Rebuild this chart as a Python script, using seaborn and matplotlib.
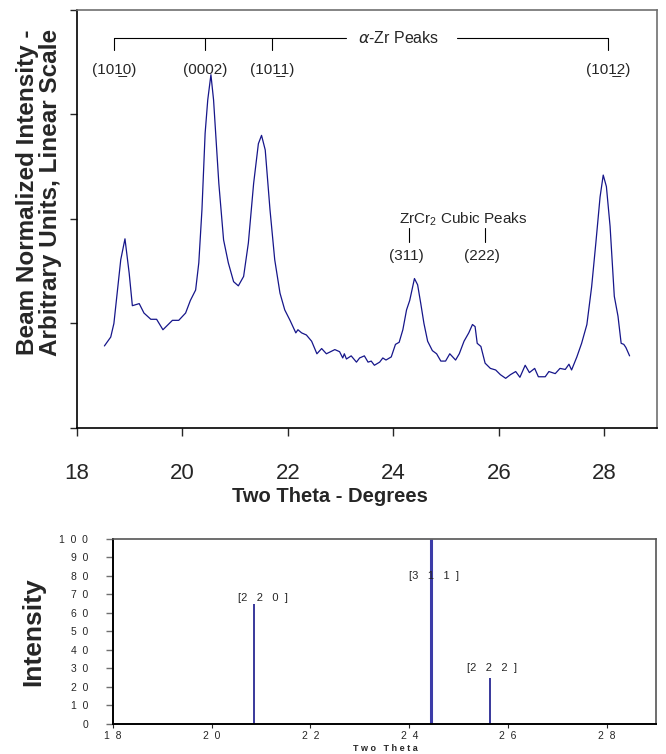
import matplotlib
matplotlib.use("Agg")
import matplotlib.pyplot as plt
import pandas as pd
import seaborn as sns

# digitized diffraction scan (two theta in degrees, arbitrary intensity)
two_theta = [18.52, 18.64, 18.70, 18.83, 18.91, 18.99, 19.05, 19.18, 19.27, 19.40,
             19.51, 19.63, 19.74, 19.81, 19.93, 20.06, 20.15, 20.25, 20.31, 20.37,
             20.43, 20.48, 20.54, 20.59, 20.69, 20.78, 20.87, 20.97, 21.06, 21.16,
             21.25, 21.35, 21.44, 21.50, 21.57, 21.66, 21.75, 21.85, 21.94, 22.04,
             22.15, 22.19, 22.26, 22.35, 22.45, 22.55, 22.64, 22.73, 22.89, 22.98,
             23.04, 23.07, 23.11, 23.20, 23.30, 23.36, 23.45, 23.52, 23.58, 23.64,
             23.74, 23.80, 23.86, 23.96, 24.04, 24.11, 24.18, 24.25, 24.31, 24.40,
             24.46, 24.52, 24.58, 24.65, 24.74, 24.82, 24.90, 24.99, 25.07, 25.18,
             25.25, 25.34, 25.43, 25.50, 25.55, 25.59, 25.66, 25.74, 25.84, 25.94,
             26.03, 26.13, 26.22, 26.32, 26.40, 26.50, 26.58, 26.68, 26.75, 26.88,
             26.95, 27.07, 27.16, 27.26, 27.33, 27.38, 27.48, 27.57, 27.67, 27.76,
             27.84, 27.92, 27.98, 28.04, 28.11, 28.19, 28.26, 28.32, 28.37, 28.41,
             28.48]
intensity = [0.785, 0.87, 1.00, 1.61, 1.81, 1.48, 1.17, 1.19, 1.10, 1.04,
             1.04, 0.94, 0.995, 1.03, 1.03, 1.10, 1.22, 1.32, 1.58, 2.09,
             2.82, 3.14, 3.38, 3.14, 2.34, 1.80, 1.58, 1.40, 1.36, 1.45,
             1.77, 2.34, 2.72, 2.80, 2.66, 2.09, 1.61, 1.29, 1.13, 1.03,
             0.91, 0.94, 0.91, 0.89, 0.83, 0.71, 0.76, 0.71, 0.75, 0.73,
             0.67, 0.71, 0.66, 0.69, 0.63, 0.67, 0.69, 0.63, 0.64, 0.60,
             0.63, 0.67, 0.65, 0.68, 0.80, 0.82, 0.94, 1.13, 1.22, 1.43,
             1.37, 1.19, 1.00, 0.83, 0.74, 0.71, 0.64, 0.64, 0.71, 0.65,
             0.71, 0.83, 0.91, 0.99, 0.97, 0.81, 0.78, 0.62, 0.57, 0.555,
             0.51, 0.475, 0.51, 0.54, 0.485, 0.60, 0.53, 0.57, 0.49, 0.49,
             0.54, 0.52, 0.57, 0.56, 0.61, 0.555, 0.68, 0.81, 0.99, 1.35,
             1.77, 2.21, 2.42, 2.31, 1.93, 1.26, 1.07, 0.81, 0.80, 0.77,
             0.69]

# alpha-Zr reflections marked on the bracket
zr_pos = [18.70, 20.43, 21.70, 28.07]
zr_labels = ["(101\u03320)", "(0002)", "(101\u03321)", "(101\u03322)"]

# ZrCr2 cubic reflections marked in the scan
cubic_pos = [24.25, 25.68]
cubic_labels = ["(311)", "(222)"]

# reference stick pattern for ZrCr2
stick_pos = [20.85, 24.44, 25.64]
stick_int = [65, 100, 25]
stick_hkl = ["[2   2   0  ]", "[3   1   1  ]", "[2   2   2  ]"]

x_ticks = [18, 20, 22, 24, 26, 28]
bottom_xlabels = ["1  8", "2  0", "2  2", "2  4", "2  6", "2  8"]
bottom_yticks = [0, 10, 20, 30, 40, 50, 60, 70, 80, 90, 100]
bottom_ylabels = ["0", "1  0", "2  0", "3  0", "4  0", "5  0", "6  0", "7  0",
                  "8  0", "9  0", "1  0  0"]

sns.set_style("ticks")
plt.rcParams["font.family"] = ["Liberation Sans", "DejaVu Sans"]
plt.rcParams["mathtext.fontset"] = "custom"
plt.rcParams["mathtext.rm"] = "Liberation Sans"

navy = "#16168a"
fig = plt.figure(figsize=(6.66, 7.54), dpi=100)

# ---- top panel: measured scan
ax = fig.add_axes([0.1156, 0.4324, 0.8709, 0.5544])
scan = pd.DataFrame({"two_theta": two_theta, "intensity": intensity})
sns.lineplot(data=scan, x="two_theta", y="intensity", sort=False,
             color=navy, linewidth=0.9, ax=ax)
ax.set_xlim(18, 29)
ax.set_ylim(0, 4)
ax.set_xticks(x_ticks)
ax.set_xticklabels([str(t) for t in x_ticks])
ax.set_yticks([0, 1, 2, 3, 4])
ax.set_yticklabels([])
ax.set_xlabel("")
ax.set_ylabel("")
ax.tick_params(axis="x", direction="out", length=6, width=1, pad=19, labelsize=16)
ax.tick_params(axis="y", direction="out", length=5, width=1)
for side in ["left", "bottom"]:
    ax.spines[side].set_color("black")
    ax.spines[side].set_linewidth(1.2)
for side in ["top", "right"]:
    ax.spines[side].set_color("#707070")
    ax.spines[side].set_linewidth(1.2)

# bracket over the alpha-Zr peaks
br_y, br_tick = 3.73, 3.62
ax.plot([zr_pos[0], 23.11], [br_y, br_y], color="black", lw=0.8)
ax.plot([25.21, zr_pos[-1]], [br_y, br_y], color="black", lw=0.8)
for xp in zr_pos:
    ax.plot([xp, xp], [br_y, br_tick], color="black", lw=0.8)
ax.text(24.1, br_y, r"$\alpha$-Zr Peaks", ha="center", va="center", fontsize=11.5)
for xp, lab in zip(zr_pos, zr_labels):
    ax.text(xp, 3.43, lab, ha="center", va="center", fontsize=11)

ax.text(25.32, 2.0, r"ZrCr$_2$ Cubic Peaks", ha="center", va="center", fontsize=11)
for xp, lab in zip(cubic_pos, cubic_labels):
    ax.plot([xp + 0.05, xp + 0.05], [1.78, 1.91], color="black", lw=0.8)
    ax.text(xp, 1.65, lab, ha="center", va="center", fontsize=11)

fig.text(0.058, 0.745, "Beam Normalized Intensity -\nArbitrary Units, Linear Scale",
         rotation=90, ha="center", va="center", fontsize=17.5, fontweight="bold",
         multialignment="center", linespacing=1.0)
fig.text(0.4955, 0.341, "Two Theta - Degrees", ha="center", va="center",
         fontsize=14.5, fontweight="bold")

# ---- bottom panel: stick pattern
bx = fig.add_axes([0.1697, 0.0398, 0.8153, 0.2454])
bx.vlines(stick_pos, 0, stick_int, colors=[navy, "#3c3ca8", navy],
          linewidths=[1.2, 2.2, 1.2])
bx.set_xlim(18, 29)
bx.set_ylim(0, 100)
bx.set_xticks(x_ticks)
bx.set_xticklabels(bottom_xlabels)
bx.set_yticks(bottom_yticks)
bx.set_yticklabels(bottom_ylabels)
bx.tick_params(axis="x", direction="out", length=3, width=0.8, pad=2, labelsize=7.5)
bx.tick_params(axis="y", direction="out", length=5, width=1, color="#707070",
               pad=13, labelsize=7.5)
for side in ["left", "bottom"]:
    bx.spines[side].set_color("black")
    bx.spines[side].set_linewidth(1.4)
for side in ["top", "right"]:
    bx.spines[side].set_color("#555555")
    bx.spines[side].set_linewidth(1.2)
for xp, yv, lab in zip([21.03, 24.5, 25.68], [68, 80, 30.5], stick_hkl):
    bx.text(xp, yv, lab, ha="center", va="center", fontsize=8)

fig.text(0.05, 0.162, "Intensity", rotation=90, ha="center", va="center",
         fontsize=19, fontweight="bold")
fig.text(0.578, 0.0015, "T w o   T h e t a", ha="center", va="bottom",
         fontsize=6.5, fontweight="bold")

fig.savefig("out.png", dpi=100)
